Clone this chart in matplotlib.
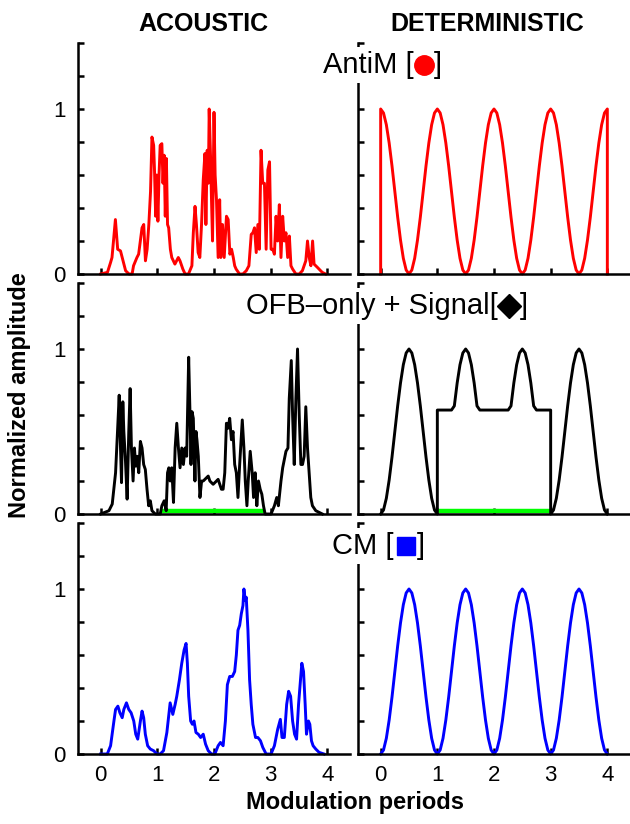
import numpy as np
import matplotlib
matplotlib.use("Agg")
import matplotlib.pyplot as plt
from matplotlib.lines import Line2D

plt.rcParams['font.family'] = ['Liberation Sans', 'DejaVu Sans']

# ── Data ──────────────────────────────────────────────────────────────────────
# acoustic (measured) envelopes, read off the picture
antim_ac_t = [0, 0.12, 0.175, 0.20, 0.26, 0.30, 0.35, 0.38, 0.44, 0.50, 0.555, 0.58,
              0.64, 0.67, 0.70, 0.73, 0.76, 0.79, 0.82, 0.85, 0.88, 0.905, 0.935, 0.95,
              0.97, 0.99, 1.01, 1.03, 1.05, 1.08, 1.10, 1.12, 1.14, 1.16, 1.18, 1.20,
              1.23, 1.255, 1.31, 1.37, 1.40, 1.45, 1.49, 1.55, 1.61, 1.635, 1.665, 1.69,
              1.72, 1.75, 1.78, 1.81, 1.84, 1.857, 1.88, 1.90, 1.915, 1.94, 1.956, 1.974,
              2.00, 2.02, 2.044, 2.073, 2.10, 2.12, 2.15, 2.18, 2.22, 2.25, 2.28, 2.31,
              2.34, 2.365, 2.39, 2.45, 2.51, 2.57, 2.616, 2.657, 2.686, 2.715, 2.745, 2.774,
              2.80, 2.83, 2.86, 2.89, 2.92, 2.95, 2.98, 3.007, 3.036, 3.066, 3.095, 3.124,
              3.153, 3.182, 3.212, 3.241, 3.27, 3.30, 3.33, 3.358, 3.387, 3.445, 3.504, 3.56,
              3.62, 3.65, 3.68, 3.71, 3.74, 3.766, 3.825, 3.91, 3.97]
antim_ac_y = [0, 0.01, 0.07, 0.10, 0.33, 0.15, 0.14, 0.10, 0.02, 0.0, 0.0, 0.05,
              0.10, 0.12, 0.20, 0.28, 0.30, 0.08, 0.15, 0.30, 0.50, 0.83, 0.78, 0.63,
              0.35, 0.60, 0.32, 0.60, 0.78, 0.79, 0.55, 0.72, 0.35, 0.70, 0.30, 0.28,
              0.15, 0.10, 0.06, 0.10, 0.08, 0.03, 0.0, 0.0, 0.05, 0.25, 0.41, 0.30,
              0.13, 0.10, 0.30, 0.57, 0.73, 0.30, 0.75, 0.55, 1.0, 0.70, 0.45, 0.20,
              0.98, 0.60, 0.45, 0.10, 0.45, 0.10, 0.30, 0.10, 0.35, 0.33, 0.12, 0.15,
              0.10, 0.05, 0.03, 0.0, 0.0, 0.02, 0.05, 0.24, 0.25, 0.28, 0.13, 0.30,
              0.15, 0.75, 0.55, 0.55, 0.15, 0.63, 0.68, 0.15, 0.15, 0.12, 0.35, 0.20,
              0.42, 0.10, 0.35, 0.20, 0.25, 0.10, 0.23, 0.05, 0.03, 0.0, 0.0, 0.02,
              0.08, 0.20, 0.10, 0.05, 0.20, 0.06, 0.04, 0.01, 0.0]

ofb_ac_t = [0, 0.146, 0.204, 0.263, 0.304, 0.327, 0.350, 0.368, 0.391, 0.409, 0.438, 0.467,
            0.496, 0.520, 0.543, 0.572, 0.596, 0.619, 0.642, 0.672, 0.701, 0.730, 0.759, 0.788,
            0.818, 0.847, 0.876, 0.905, 0.964, 1.051, 1.080, 1.121, 1.156, 1.180, 1.203, 1.226,
            1.255, 1.285, 1.314, 1.343, 1.372, 1.401, 1.431, 1.460, 1.489, 1.518, 1.553, 1.577,
            1.594, 1.612, 1.635, 1.664, 1.682, 1.699, 1.723, 1.752, 1.781, 1.810, 1.869, 1.898,
            1.927, 1.985, 2.044, 2.073, 2.131, 2.161, 2.190, 2.219, 2.248, 2.277, 2.307, 2.336,
            2.365, 2.394, 2.423, 2.453, 2.499, 2.528, 2.552, 2.581, 2.604, 2.639, 2.674, 2.698,
            2.727, 2.756, 2.785, 2.815, 2.844, 2.873, 2.902, 2.949, 3.007, 3.066, 3.107, 3.136,
            3.182, 3.212, 3.270, 3.305, 3.328, 3.364, 3.387, 3.416, 3.445, 3.474, 3.504, 3.533,
            3.562, 3.591, 3.620, 3.650, 3.679, 3.708, 3.737, 3.796, 3.854, 3.912]
ofb_ac_y = [0, 0.02, 0.06, 0.25, 0.55, 0.72, 0.40, 0.19, 0.68, 0.50, 0.32, 0.09,
            0.50, 0.76, 0.40, 0.20, 0.40, 0.29, 0.35, 0.25, 0.44, 0.40, 0.30, 0.27,
            0.15, 0.05, 0.08, 0.02, 0.0, 0.0, 0.05, 0.08, 0.02, 0.25, 0.28, 0.20,
            0.28, 0.07, 0.40, 0.55, 0.40, 0.28, 0.40, 0.30, 0.40, 0.35, 0.95, 0.60,
            0.30, 0.62, 0.58, 0.20, 0.50, 0.45, 0.35, 0.10, 0.20, 0.20, 0.22, 0.23,
            0.20, 0.18, 0.20, 0.21, 0.15, 0.15, 0.25, 0.55, 0.52, 0.58, 0.45, 0.50,
            0.30, 0.25, 0.10, 0.30, 0.57, 0.40, 0.20, 0.05, 0.20, 0.38, 0.25, 0.10,
            0.25, 0.05, 0.20, 0.15, 0.12, 0.05, 0.0, 0.0, 0.0, 0.05, 0.10, 0.05,
            0.20, 0.28, 0.38, 0.40, 0.70, 0.93, 0.60, 0.30, 0.70, 1.0, 0.60, 0.30,
            0.30, 0.35, 0.65, 0.40, 0.25, 0.10, 0.05, 0.02, 0.01, 0.0]

cm_ac_t = [0, 0.117, 0.175, 0.234, 0.263, 0.304, 0.339, 0.380, 0.409, 0.455, 0.496, 0.537,
           0.584, 0.619, 0.654, 0.701, 0.730, 0.759, 0.788, 0.829, 0.876, 0.934, 0.993, 1.051,
           1.109, 1.168, 1.226, 1.273, 1.314, 1.343, 1.390, 1.431, 1.472, 1.507, 1.530, 1.553,
           1.588, 1.618, 1.647, 1.682, 1.723, 1.764, 1.810, 1.851, 1.898, 1.956, 2.015, 2.073,
           2.114, 2.161, 2.201, 2.236, 2.277, 2.324, 2.365, 2.394, 2.423, 2.453, 2.482, 2.511,
           2.528, 2.552, 2.569, 2.599, 2.628, 2.657, 2.686, 2.733, 2.774, 2.820, 2.861, 2.920,
           3.007, 3.066, 3.124, 3.171, 3.200, 3.241, 3.282, 3.317, 3.352, 3.387, 3.422, 3.457,
           3.492, 3.515, 3.550, 3.580, 3.609, 3.632, 3.667, 3.691, 3.720, 3.749, 3.796, 3.854,
           3.942]
cm_ac_y = [0, 0.0, 0.05, 0.20, 0.27, 0.29, 0.25, 0.22, 0.27, 0.31, 0.27, 0.25,
           0.20, 0.12, 0.09, 0.20, 0.26, 0.22, 0.12, 0.05, 0.03, 0.02, 0.0, 0.0,
           0.02, 0.13, 0.31, 0.24, 0.30, 0.35, 0.45, 0.55, 0.63, 0.67, 0.55, 0.35,
           0.20, 0.18, 0.20, 0.13, 0.12, 0.10, 0.12, 0.06, 0.02, 0.0, 0.0, 0.05,
           0.07, 0.05, 0.20, 0.42, 0.47, 0.47, 0.50, 0.60, 0.75, 0.78, 0.85, 0.90,
           1.0, 0.93, 0.95, 0.75, 0.45, 0.30, 0.18, 0.10, 0.10, 0.08, 0.04, 0.0,
           0.0, 0.05, 0.15, 0.21, 0.10, 0.10, 0.30, 0.38, 0.35, 0.20, 0.12, 0.09,
           0.30, 0.40, 0.55, 0.50, 0.30, 0.12, 0.20, 0.18, 0.08, 0.05, 0.03, 0.01,
           0.0]

# deterministic envelopes, sampled every 0.05 periods
t_det = np.arange(0, 4.0001, 0.05)
antim_det_y = [1, .976, .905, .794, .655, .5, .345, .206, .095, .024, 0, .024, .095, .206, .345, .5, .655, .794, .905, .976,
               1, .976, .905, .794, .655, .5, .345, .206, .095, .024, 0, .024, .095, .206, .345, .5, .655, .794, .905, .976,
               1, .976, .905, .794, .655, .5, .345, .206, .095, .024, 0, .024, .095, .206, .345, .5, .655, .794, .905, .976,
               1, .976, .905, .794, .655, .5, .345, .206, .095, .024, 0, .024, .095, .206, .345, .5, .655, .794, .905, .976,
               1]
cm_det_y = [0, .024, .095, .206, .345, .5, .655, .794, .905, .976, 1, .976, .905, .794, .655, .5, .345, .206, .095, .024,
            0, .024, .095, .206, .345, .5, .655, .794, .905, .976, 1, .976, .905, .794, .655, .5, .345, .206, .095, .024,
            0, .024, .095, .206, .345, .5, .655, .794, .905, .976, 1, .976, .905, .794, .655, .5, .345, .206, .095, .024,
            0, .024, .095, .206, .345, .5, .655, .794, .905, .976, 1, .976, .905, .794, .655, .5, .345, .206, .095, .024,
            0]
# OFB + signal: t = 1 and t = 3 appear twice (vertical steps)
ofb_det_t = np.concatenate([t_det[:21], t_det[20:61], t_det[60:]])
ofb_det_y = [0, .024, .095, .206, .345, .5, .655, .794, .905, .976, 1, .976, .905, .794, .655, .5, .345, .206, .095, .024, 0,
             .63, .63, .63, .63, .63, .63, .655, .794, .905, .976, 1, .976, .905, .794, .655,
             .63, .63, .63, .63, .63, .63, .63, .63, .63, .63, .63,
             .655, .794, .905, .976, 1, .976, .905, .794, .655, .63, .63, .63, .63, .63, .63,
             0, .024, .095, .206, .345, .5, .655, .794, .905, .976, 1, .976, .905, .794, .655, .5, .345, .206, .095, .024, 0]

# signal interval (green bars)
signal_ac = [1.08, 2.89]
signal_det = [1.0, 3.0]

x_ticks = [0, 1, 2, 3, 4]
y_ticks = [0, 0.2, 0.4, 0.6, 0.8, 1.0, 1.2, 1.4]
y_ticklabels = ['0', '', '', '', '', '1', '', '']

RED, BLUE, GREEN = '#ff0000', '#0000ff', '#00ff00'

# ── Figure ────────────────────────────────────────────────────────────────────
fig = plt.figure(figsize=(6.3, 8.24), dpi=100)

W, H = 630, 824
def px(x0, y0, x1, y1):
    return [x0 / W, 1 - y1 / H, (x1 - x0) / W, (y1 - y0) / H]

rows_y = [(43, 274), (283, 514), (523, 754)]
cols_x = [(78, 350), (358, 630)]

axes = [[None, None] for _ in range(3)]
for r, (y0, y1) in enumerate(rows_y):
    for c, (x0, x1) in enumerate(cols_x):
        ax = fig.add_axes(px(x0, y0, x1, y1))
        ax.set_xlim(-0.4, 4.4)
        ax.set_ylim(0, 1.4)
        for s in ['top', 'right']:
            ax.spines[s].set_visible(False)
        for s in ['left', 'bottom']:
            ax.spines[s].set_linewidth(1.8)
        ax.set_xticks(x_ticks)
        ax.set_yticks(y_ticks)
        ax.tick_params(direction='in', length=4, width=1.8, labelsize=16)
        ax.tick_params(axis='x', pad=8)
        ax.tick_params(axis='y', pad=9)
        if c == 0:
            ax.set_yticklabels(y_ticklabels)
        else:
            ax.set_yticklabels([])
        if r < 2:
            ax.set_xticklabels([])
        axes[r][c] = ax

LW = 2.1
# AntiM
axes[0][0].plot(antim_ac_t, antim_ac_y, color=RED, lw=LW, clip_on=False)
axes[0][1].plot(np.concatenate([[0], t_det, [4]]), [0] + antim_det_y + [0],
                color=RED, lw=LW, clip_on=False)
# OFB-only + signal
axes[1][0].plot(signal_ac, [0.02, 0.02], color=GREEN, lw=3.2, solid_capstyle='butt')
axes[1][0].plot(ofb_ac_t, ofb_ac_y, color='black', lw=LW, clip_on=False)
axes[1][1].plot(signal_det, [0.02, 0.02], color=GREEN, lw=3.2, solid_capstyle='butt')
axes[1][1].plot(ofb_det_t, ofb_det_y, color='black', lw=LW, clip_on=False)
# CM
axes[2][0].plot(cm_ac_t, cm_ac_y, color=BLUE, lw=LW, clip_on=False)
axes[2][1].plot(t_det, cm_det_y, color=BLUE, lw=LW, clip_on=False)

# ── Panel labels with coloured marker (white box hides the spine top) ────────
BOX = dict(facecolor='white', edgecolor='none', pad=3)

def label(text, x_right, y, marker, mcolor, ms, dx_m, dx_b):
    fy = 1 - y / H
    fig.text(x_right / W, fy, text, ha='right', va='center', fontsize=21, bbox=BOX)
    fig.add_artist(Line2D([(x_right + dx_m) / W], [fy], transform=fig.transFigure,
                          marker=marker, color=mcolor, ms=ms, lw=0, zorder=6))
    fig.text((x_right + dx_b) / W, fy, ']', ha='left', va='center', fontsize=21)

label('AntiM [', 414, 65, 'o', RED, 14, 10, 20)
label('OFB\u2013only + Signal[', 498, 306, 'D', 'black', 12.5, 11, 22)
label('CM [', 394, 546, 's', BLUE, 12.5, 12, 23)

# ── Column titles and axis labels ────────────────────────────────────────────
fig.text(203 / W, 1 - 24 / H, 'ACOUSTIC', ha='center', va='center',
         fontsize=18, fontweight='bold')
fig.text(487 / W, 1 - 24 / H, 'DETERMINISTIC', ha='center', va='center',
         fontsize=18, fontweight='bold')
fig.text(20 / W, 1 - 395 / H, 'Normalized amplitude', rotation=90,
         ha='center', va='center', fontsize=17, fontweight='bold')
fig.text(355 / W, 1 - 803 / H, 'Modulation periods', ha='center', va='center',
         fontsize=17, fontweight='bold')

fig.savefig('out.png', dpi=100)
